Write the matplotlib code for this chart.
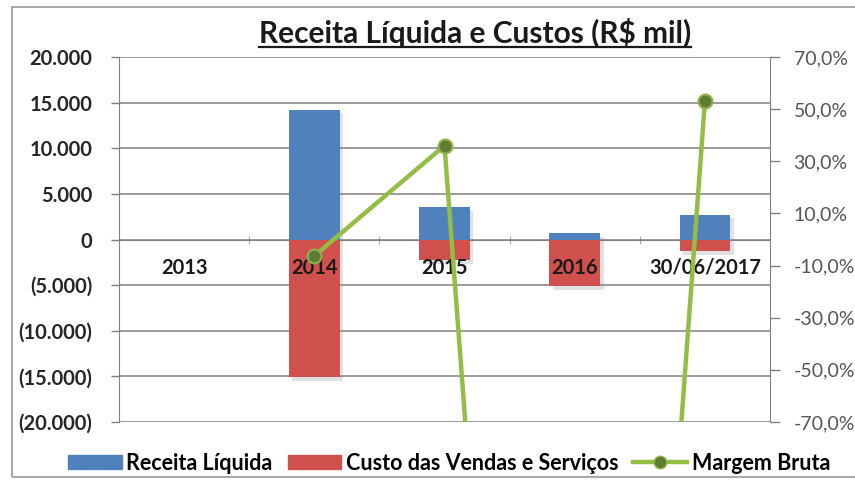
import matplotlib
matplotlib.use("Agg")
import matplotlib.pyplot as plt
import matplotlib.patheffects as pe
from matplotlib.patches import Rectangle
from matplotlib.lines import Line2D
import numpy as np

categories = ["2013", "2014", "2015", "2016", "30/06/2017"]
receita = [0, 14200, 3550, 700, 2700]
custo = [0, -15100, -2270, -5100, -1270]
margem = [np.nan, -0.063, 0.36, -6.28, 0.53]

left_ticks = [20000, 15000, 10000, 5000, 0, -5000, -10000, -15000, -20000]
left_labels = ["20.000", "15.000", "10.000", "5.000", "0", "(5.000)", "(10.000)", "(15.000)", "(20.000)"]
right_ticks = [0.7, 0.5, 0.3, 0.1, -0.1, -0.3, -0.5, -0.7]
right_labels = ["70,0%", "50,0%", "30,0%", "10,0%", "-10,0%", "-30,0%", "-50,0%", "-70,0%"]

title = "Receita Líquida e Custos (R$ mil)"
series_names = ["Receita Líquida", "Custo das Vendas e Serviços", "Margem Bruta"]

BLUE = "#4F81BD"
RED = "#D0504D"
GREEN = "#94BD45"
GRID = "#808080"
FONT = ["Lato", "DejaVu Sans"]

plt.rcParams["font.family"] = FONT

W, H = 855, 482
fig = plt.figure(figsize=(W / 100, H / 100), dpi=100)
ax = fig.add_axes([119 / W, 1 - 422 / H, (770 - 119) / W, (422 - 57) / H])

x = np.arange(len(categories))
shadow = [pe.SimplePatchShadow(offset=(2.5, -2.5), shadow_rgbFace="#888888", alpha=0.25), pe.Normal()]
bars1 = ax.bar(x, receita, width=0.39, color=BLUE, zorder=3)
bars2 = ax.bar(x, custo, width=0.39, color=RED, zorder=3)
for b in list(bars1) + list(bars2):
    b.set_path_effects(shadow)

ax.set_xlim(-0.5, len(categories) - 0.5)
ax.set_ylim(-20000, 20000)
ax.set_yticks(left_ticks)
ax.set_yticklabels(left_labels, fontweight="bold", fontsize=14.5, color="#262626")
ax.yaxis.grid(True, color=GRID, linewidth=1.1, zorder=0)
ax.set_axisbelow(True)
ax.tick_params(axis="y", direction="out", length=6, width=1, color=GRID, pad=13)

ax.spines["top"].set_visible(False)
ax.spines["left"].set_color(GRID)
ax.spines["right"].set_visible(False)
ax.spines["bottom"].set_position(("data", 0))
ax.spines["bottom"].set_color(GRID)
ax.spines["bottom"].set_zorder(2)

ax.set_xticks(x[:-1] + 0.5)
ax.set_xticklabels([])
ax.tick_params(axis="x", which="major", direction="inout", length=6, color="#aaaaaa")

ax2 = ax.twinx()
ax2.set_ylim(-0.7, 0.7)
ax2.set_yticks(right_ticks)
ax2.set_yticklabels(right_labels, fontsize=14, color="#555555")
ax2.tick_params(axis="y", direction="out", length=7, width=1, color=GRID, pad=10)
for s in ["top", "left", "bottom"]:
    ax2.spines[s].set_visible(False)
ax2.spines["right"].set_color(GRID)
ax2.plot(x, margem, color=GREEN, linewidth=3.2, marker="o", markersize=10,
         markerfacecolor="#5f7d32", markeredgecolor="#8fb04a", markeredgewidth=1.5, zorder=4)

# category labels drawn above bars
for xi, c in zip(x, categories):
    ax2.text(xi, (422 - 268) / 365, c, transform=ax.get_xaxis_transform(), ha="center", va="center",
             fontsize=14.5, fontweight="bold", color="#1a1a1a", zorder=3)

# title with underline
t = fig.text(475 / W, 1 - 33 / H, title, ha="center", va="center", fontsize=21.5, fontweight="bold", color="#1a1a1a")
fig.canvas.draw()
bb = t.get_window_extent()
fig.add_artist(Line2D([bb.x0 / W, bb.x1 / W], [(bb.y0 + 1) / H, (bb.y0 + 1) / H],
                      color="#1a1a1a", linewidth=1.6, transform=fig.transFigure))

# legend
handles = [Rectangle((0, 0), 1, 1, color=BLUE), Rectangle((0, 0), 1, 1, color=RED),
           Line2D([], [], color=GREEN, linewidth=3.2, marker="o", markersize=9,
                  markerfacecolor="#5f7d32", markeredgecolor="#8fb04a")]
leg = fig.legend(handles, series_names, loc="center", bbox_to_anchor=(449 / W, 1 - 463 / H), ncol=3,
                 frameon=False, handlelength=2.5, handleheight=0.6, handletextpad=0.2, columnspacing=0.7,
                 prop={"weight": "bold", "size": 15.5})

# chart border
fig.add_artist(Rectangle((12 / W, 5 / H), 1.0, 1 - 12 / H, fill=False, edgecolor="#999999",
                         linewidth=1.2, transform=fig.transFigure, clip_on=False))

fig.savefig("out.png", dpi=100)
